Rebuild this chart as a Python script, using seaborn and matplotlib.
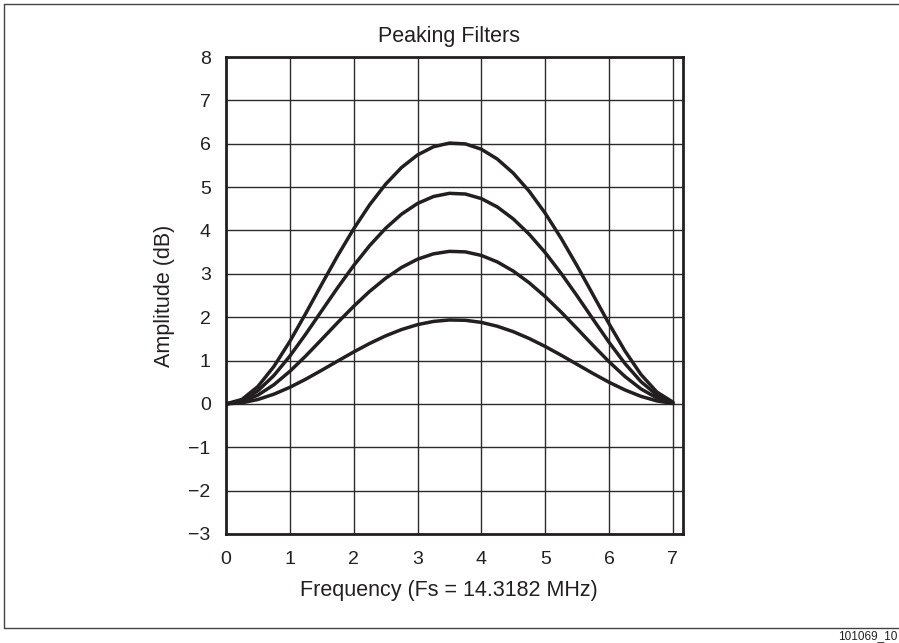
import matplotlib
matplotlib.use("Agg")
import matplotlib.pyplot as plt
import seaborn as sns
import pandas as pd
from matplotlib.lines import Line2D

# ---- data ----
freq_mhz = [0.0, 0.25, 0.5, 0.75, 1.0, 1.25, 1.5, 1.75, 2.0, 2.25, 2.5, 2.75, 3.0,
            3.25, 3.5, 3.75, 4.0, 4.25, 4.5, 4.75, 5.0, 5.25, 5.5, 5.75, 6.0,
            6.25, 6.5, 6.75, 7.0]
gain_6db = [0, 0.104, 0.402, 0.863, 1.441, 2.089, 2.761, 3.420, 4.037, 4.591,
            5.066, 5.452, 5.741, 5.930, 6.015, 5.996, 5.873, 5.647, 5.322, 4.903,
            4.398, 3.819, 3.184, 2.516, 1.849, 1.221, 0.679, 0.273, 0.042]
gain_4p9db = [0, 0.078, 0.303, 0.655, 1.103, 1.612, 2.149, 2.683, 3.190, 3.650,
              4.049, 4.376, 4.622, 4.783, 4.856, 4.840, 4.735, 4.542, 4.266, 3.912,
              3.490, 3.010, 2.491, 1.952, 1.422, 0.931, 0.514, 0.205, 0.032]
gain_3p5db = [0, 0.052, 0.203, 0.442, 0.751, 1.107, 1.490, 1.877, 2.251, 2.595,
              2.897, 3.147, 3.337, 3.461, 3.518, 3.506, 3.424, 3.275, 3.063, 2.793,
              2.475, 2.118, 1.737, 1.349, 0.973, 0.632, 0.346, 0.137, 0.021]
gain_1p9db = [0, 0.026, 0.102, 0.224, 0.383, 0.571, 0.777, 0.989, 1.198, 1.394,
              1.569, 1.715, 1.828, 1.902, 1.936, 1.928, 1.880, 1.791, 1.666, 1.508,
              1.325, 1.123, 0.912, 0.701, 0.500, 0.322, 0.175, 0.069, 0.011]
series_names = ["6 dB", "4.9 dB", "3.5 dB", "1.9 dB"]
x_ticks = [0, 1, 2, 3, 4, 5, 6, 7]
y_ticks = [-3, -2, -1, 0, 1, 2, 3, 4, 5, 6, 7, 8]
x_tick_labels = ["0", "1", "2", "3", "4", "5", "6", "7"]
y_tick_labels = ["\u22123", "\u22122", "\u22121", "0", "1", "2", "3", "4", "5", "6", "7", "8"]

frames = []
for name, vals in zip(series_names, [gain_6db, gain_4p9db, gain_3p5db, gain_1p9db]):
    frames.append(pd.DataFrame({"freq": freq_mhz, "gain": vals, "series": name}))
df = pd.concat(frames, ignore_index=True)

sns.set_theme(style="white")
plt.rcParams["font.family"] = ["Liberation Sans", "DejaVu Sans"]

INK = "#231f20"
fig = plt.figure(figsize=(8.99, 6.43), dpi=100)
ax = fig.add_axes([226 / 899, 1 - 534 / 643, 457 / 899, 477 / 643])

sns.lineplot(data=df, x="freq", y="gain", units="series", estimator=None,
             color=INK, lw=2.5, ax=ax, legend=False, sort=False)

ax.set_xlim(0, 7.159)
ax.set_ylim(-3, 8)
ax.set_xticks(x_ticks)
ax.set_xticklabels(x_tick_labels)
ax.set_yticks(y_ticks)
ax.set_yticklabels(y_tick_labels)
ax.grid(True, color="#2b2b2b", lw=1.0)
ax.set_axisbelow(True)
ax.tick_params(axis="both", length=0, labelsize=14, colors=INK)
ax.tick_params(axis="x", pad=12)
ax.tick_params(axis="y", pad=11)
for sp in ax.spines.values():
    sp.set_visible(True)
    sp.set_color(INK)
    sp.set_linewidth(2.0)

ax.set_title("Peaking Filters", fontsize=15.5, color=INK, x=0.488, pad=11)
ax.set_xlabel("Frequency (Fs = 14.3182 MHz)", fontsize=15.5, color=INK)
ax.xaxis.set_label_coords(0.488, -0.130)
ax.xaxis.label.set_va("baseline")
ax.set_ylabel("Amplitude (dB)", fontsize=15.5, color=INK)
ax.yaxis.set_label_coords(-0.1335, 0.5)
ax.yaxis.label.set_va("center")

# outer frame (open on the right side)
fc = "#444444"
fig.add_artist(Line2D([4 / 899, 1.0], [1 - 3.5 / 643, 1 - 3.5 / 643], color=fc, lw=1.0, transform=fig.transFigure))
fig.add_artist(Line2D([4 / 899, 1.0], [1 - 628 / 643, 1 - 628 / 643], color=fc, lw=1.0, transform=fig.transFigure))
fig.add_artist(Line2D([4 / 899, 4 / 899], [1 - 3.5 / 643, 1 - 628 / 643], color=fc, lw=1.0, transform=fig.transFigure))

fig.text(897 / 899, 1 - 639 / 643, "101069_10", fontsize=8.5, color=INK, va="baseline", ha="right")

fig.savefig("out.png", dpi=100, facecolor="white")
